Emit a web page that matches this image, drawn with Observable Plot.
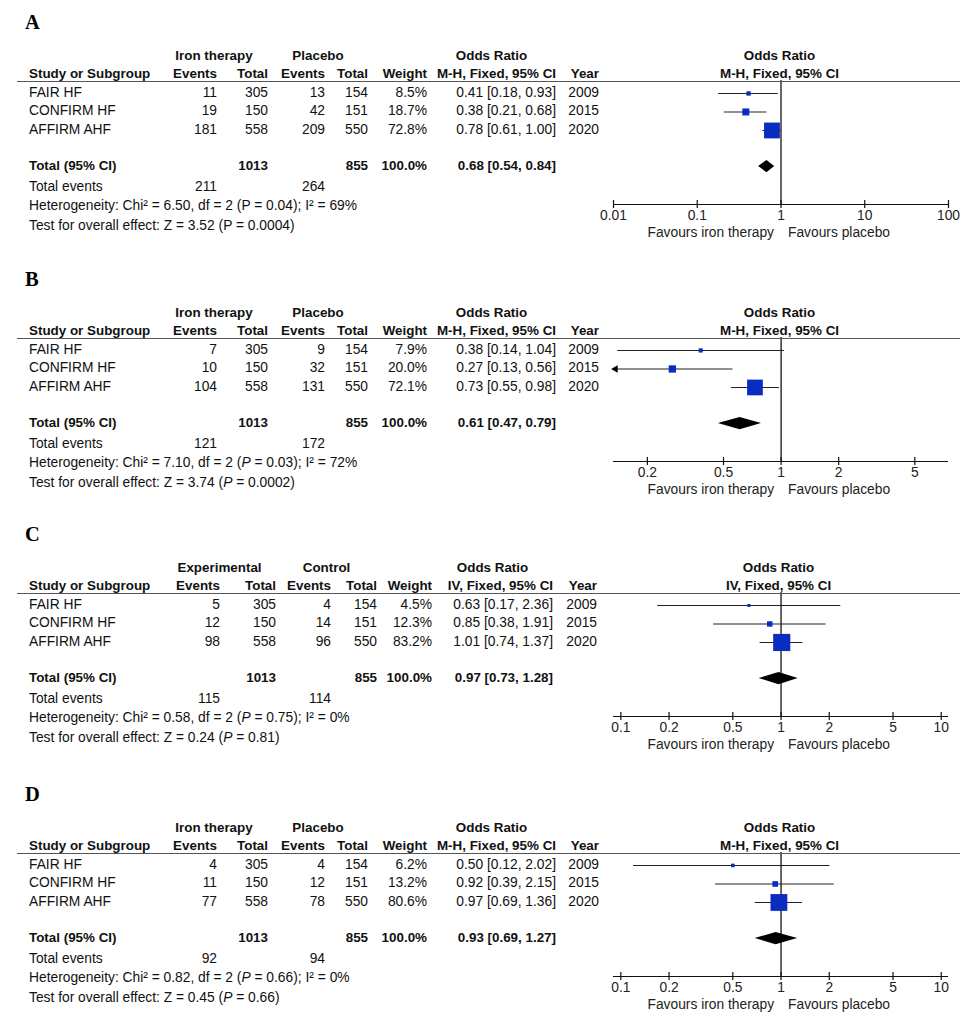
<!DOCTYPE html>
<html>
<head>
<meta charset="utf-8">
<script src="https://cdn.jsdelivr.net/npm/d3@7"></script>
<script src="https://cdn.jsdelivr.net/npm/@observablehq/plot@0.6"></script>
<style>
html, body { margin: 0; padding: 0; background: #fff; }
#root { position: relative; width: 980px; height: 1024px; overflow: hidden; font-family: "Liberation Sans", Arial, sans-serif; color: #111; }
.panel { position: absolute; left: 0; width: 980px; height: 258px; }
.letter { position: absolute; left: 25px; top: 10px; font-family: "Liberation Serif", "Times New Roman", serif; font-weight: bold; font-size: 20.5px; line-height: 24px; color: #000; }
table.t { position: absolute; left: 17px; top: 46px; border-collapse: collapse; table-layout: fixed; width: 943px; font-size: 13.8px; }
table.t td { padding: 0; white-space: nowrap; overflow: visible; vertical-align: middle; line-height: 15px; }
table.t .b { font-weight: bold; font-size: 13.4px; }
table.t .l { text-align: left; padding-left: 12px; }
table.t .r { text-align: right; }
table.t .c { text-align: center; }
tr.h1 td { height: 19px; }
tr.h2 td { height: 16px; border-bottom: 1.5px solid #555; }
tr.sp1 td { height: 1px; }
tr.row td { height: 18.5px; }
tr.sp2 td { height: 16px; }
tr.tot td { height: 22px; }
tr.foot td { height: 19.5px; }
.panel svg { position: absolute; left: 0; top: 0; pointer-events: none; }
</style>
</head>
<body>
<div id="root"></div>
<script>
// ---------- data ----------
const panelLetters = ["A", "B", "C", "D"];
const studies = ["FAIR HF", "CONFIRM HF", "AFFIRM AHF"];
const years = [2009, 2015, 2020];
const groupLabels = [["Iron therapy", "Placebo"], ["Iron therapy", "Placebo"], ["Experimental", "Control"], ["Iron therapy", "Placebo"]];
const methods = ["M-H, Fixed, 95% CI", "M-H, Fixed, 95% CI", "IV, Fixed, 95% CI", "M-H, Fixed, 95% CI"];
const expEvents = [[11, 19, 181], [7, 10, 104], [5, 12, 98], [4, 11, 77]];
const expTotals = [305, 150, 558];
const ctlEvents = [[13, 42, 209], [9, 32, 131], [4, 14, 96], [4, 12, 78]];
const ctlTotals = [154, 151, 550];
const weights = [[8.5, 18.7, 72.8], [7.9, 20.0, 72.1], [4.5, 12.3, 83.2], [6.2, 13.2, 80.6]];
const orEst = [[0.41, 0.38, 0.78], [0.38, 0.27, 0.73], [0.63, 0.85, 1.01], [0.50, 0.92, 0.97]];
const orLo = [[0.18, 0.21, 0.61], [0.14, 0.13, 0.55], [0.17, 0.38, 0.74], [0.12, 0.39, 0.69]];
const orHi = [[0.93, 0.68, 1.00], [1.04, 0.56, 0.98], [2.36, 1.91, 1.37], [2.02, 2.15, 1.36]];
const totalExpN = 1013;
const totalCtlN = 855;
const totalOR = [0.68, 0.61, 0.97, 0.93];
const totalLo = [0.54, 0.47, 0.73, 0.69];
const totalHi = [0.84, 0.79, 1.28, 1.27];
const totalEventsExp = [211, 121, 115, 92];
const totalEventsCtl = [264, 172, 114, 94];
const hetChi = ["6.50", "7.10", "0.58", "0.82"];
const hetP = ["0.04", "0.03", "0.75", "0.66"];
const hetI2 = [69, 72, 0, 0];
const testZ = ["3.52", "3.74", "0.24", "0.45"];
const testP = ["0.0004", "0.0002", "0.81", "0.66"];
const italicP = [false, true, true, true];
const axisTicks = [[0.01, 0.1, 1, 10, 100], [0.2, 0.5, 1, 2, 5], [0.1, 0.2, 0.5, 1, 2, 5, 10], [0.1, 0.2, 0.5, 1, 2, 5, 10]];
const axisDomains = [[0.01, 100], [0.133, 7.5], [0.09, 11.1], [0.09, 11.1]];
const favoursLabels = ["Favours iron therapy", "Favours placebo"];

// ---------- layout helpers ----------
const panelTops = [0, 257, 512, 772];
const colWidthsStd = [143, 57, 51, 57, 43, 59, 129, 43, 361];
const colWidthsC = [146, 57, 56, 55, 46, 55, 121, 44, 363];
const blue = "#0a2cc0";
const fontFamily = '"Liberation Sans", Arial, sans-serif';
const totalRow = 4.95;
const axisRow = 7;
const fmt1 = d => d.toFixed(1) + "%";
const fmtOR = (e, l, h) => `${e.toFixed(2)} [${l.toFixed(2)}, ${h.toFixed(2)}]`;

const root = document.getElementById("root");

panelLetters.forEach((letter, p) => {
  const panel = document.createElement("div");
  panel.className = "panel";
  panel.style.top = panelTops[p] + "px";
  root.appendChild(panel);

  const rows = studies.map((s, i) => ({
    study: s, row: i + 1, or: orEst[p][i], lo: orLo[p][i], hi: orHi[p][i], w: weights[p][i]
  }));
  const [dmin, dmax] = axisDomains[p];

  // ---------- forest plot (Observable Plot) ----------
  const diamond = [
    {y: totalRow - 0.33, x1: totalOR[p], x2: totalOR[p]},
    {y: totalRow, x1: totalLo[p], x2: totalHi[p]},
    {y: totalRow + 0.33, x1: totalOR[p], x2: totalOR[p]}
  ];
  const svg = Plot.plot({
    width: 980,
    height: 258,
    marginLeft: 613,
    marginRight: 32,
    marginTop: 80,
    marginBottom: 54,
    x: {type: "log", domain: axisDomains[p], axis: null},
    y: {domain: [0.3, axisRow], reverse: true, axis: null},
    r: {type: "pow", exponent: 0.6, domain: [0, 100], range: [0, 10.8]},
    style: {background: "transparent", fontFamily, fontSize: "13.8px", overflow: "visible"},
    marks: [
      Plot.ruleX([1], {y1: 0.3, y2: axisRow, stroke: "#000", strokeWidth: 1.2}),
      Plot.ruleY([axisRow], {stroke: "#111", strokeWidth: 1.2}),
      Plot.ruleX(axisTicks[p], {x: d => d, y1: axisRow - 0.22, y2: axisRow + 0.22, stroke: "#111", strokeWidth: 1.2}),
      Plot.text(axisTicks[p], {x: d => d, y: () => axisRow, dy: 11, text: d => String(d), fill: "#222", fontSize: 13.8}),
      Plot.text([favoursLabels[0]], {x: () => 1, y: () => axisRow, dy: 28, dx: -7, text: d => d, textAnchor: "end", fill: "#222", fontSize: 13.8}),
      Plot.text([favoursLabels[1]], {x: () => 1, y: () => axisRow, dy: 28, dx: 7, text: d => d, textAnchor: "start", fill: "#222", fontSize: 13.8}),
      Plot.ruleY(rows, {y: "row", x1: d => Math.max(d.lo, dmin), x2: d => Math.min(d.hi, dmax), stroke: "#222", strokeWidth: 1.1}),
      Plot.dot(rows.filter(d => d.lo < dmin), {x: () => dmin, y: "row", symbol: "triangle", rotate: -90, r: 2.8, dx: 2, fill: "#000", stroke: "none"}),
      Plot.dot(rows, {x: "or", y: "row", r: "w", symbol: "square", fill: blue, stroke: "none"}),
      Plot.areaX(diamond, {y: "y", x1: "x1", x2: "x2", fill: "#000"})
    ]
  });
  panel.appendChild(svg);

  // ---------- table (HTML) ----------
  const letterDiv = document.createElement("div");
  letterDiv.className = "letter";
  letterDiv.textContent = letter;
  panel.appendChild(letterDiv);

  const P = italicP[p] ? "<i>P</i>" : "P";
  const colWidths = p === 2 ? colWidthsC : colWidthsStd;
  let html = '<colgroup>' + colWidths.map(w => `<col style="width:${w}px">`).join("") + '</colgroup>';
  html += `<tr class="h1"><td></td><td class="c b" colspan="2">${groupLabels[p][0]}</td><td class="c b" colspan="2">${groupLabels[p][1]}</td><td></td><td class="c b">Odds Ratio</td><td></td><td class="c b">Odds Ratio</td></tr>`;
  html += `<tr class="h2"><td class="l b">Study or Subgroup</td><td class="r b">Events</td><td class="r b">Total</td><td class="r b">Events</td><td class="r b">Total</td><td class="r b">Weight</td><td class="r b">${methods[p]}</td><td class="r b">Year</td><td class="c b">${methods[p]}</td></tr>`;
  html += `<tr class="sp1"><td colspan="9"></td></tr>`;
  studies.forEach((s, i) => {
    html += `<tr class="row"><td class="l">${s}</td><td class="r">${expEvents[p][i]}</td><td class="r">${expTotals[i]}</td><td class="r">${ctlEvents[p][i]}</td><td class="r">${ctlTotals[i]}</td><td class="r">${fmt1(weights[p][i])}</td><td class="r">${fmtOR(orEst[p][i], orLo[p][i], orHi[p][i])}</td><td class="r">${years[i]}</td><td></td></tr>`;
  });
  html += `<tr class="sp2"><td colspan="9"></td></tr>`;
  html += `<tr class="tot"><td class="l b">Total (95% CI)</td><td></td><td class="r b">${totalExpN}</td><td></td><td class="r b">${totalCtlN}</td><td class="r b">100.0%</td><td class="r b">${fmtOR(totalOR[p], totalLo[p], totalHi[p])}</td><td></td><td></td></tr>`;
  html += `<tr class="foot"><td class="l">Total events</td><td class="r">${totalEventsExp[p]}</td><td></td><td class="r">${totalEventsCtl[p]}</td><td colspan="5"></td></tr>`;
  html += `<tr class="foot"><td class="l" colspan="9">Heterogeneity: Chi² = ${hetChi[p]}, df = 2 (${P} = ${hetP[p]}); I² = ${hetI2[p]}%</td></tr>`;
  html += `<tr class="foot"><td class="l" colspan="9">Test for overall effect: Z = ${testZ[p]} (${P} = ${testP[p]})</td></tr>`;
  const table = document.createElement("table");
  table.className = "t";
  table.innerHTML = html;
  panel.appendChild(table);
});
</script>
</body>
</html>
